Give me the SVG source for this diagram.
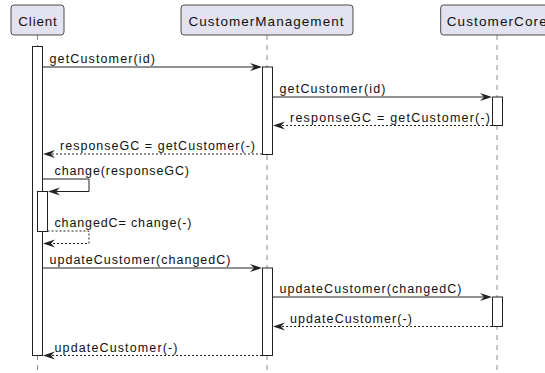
<svg xmlns="http://www.w3.org/2000/svg" width="545" height="373" viewBox="0 0 545 373">
<style>
.box{fill:#E2E2F0;stroke:#4a4a4a;stroke-width:1}
.life{stroke:#8a8a8a;stroke-width:1;stroke-dasharray:5,5;fill:none}
.act{fill:#ffffff;stroke:#222;stroke-width:1}
.msg{stroke:#222;stroke-width:1;fill:none}
.ret{stroke:#222;stroke-width:1;fill:none;stroke-dasharray:2,2}
.head{fill:#222;stroke:none}
.pt{font-family:"Liberation Sans",Arial,sans-serif;font-size:13.5px;fill:#111}
.mt{font-family:"Liberation Sans",Arial,sans-serif;font-size:12.5px;fill:#111}
</style>
<rect width="545" height="373" fill="#ffffff"/>
<g id="lifelines">
<line class="life" x1="37.5" y1="35" x2="37.5" y2="373"/>
<line class="life" x1="267" y1="35" x2="267" y2="373"/>
<line class="life" x1="497" y1="35" x2="497" y2="373"/>
</g>
<g id="Client">
<rect class="box" x="11" y="5" width="53" height="30" rx="3"/>
<text class="pt" x="18.3" y="25.5" textLength="38.5" lengthAdjust="spacing">Client</text>
</g>
<g id="CustomerManagement">
<rect class="box" x="181" y="5" width="172" height="30" rx="3"/>
<text class="pt" x="188.5" y="25.5" textLength="155" lengthAdjust="spacing">CustomerManagement</text>
</g>
<g id="CustomerCore">
<rect class="box" x="440.7" y="5" width="112" height="30" rx="3"/>
<text class="pt" x="446.7" y="25.5" textLength="100" lengthAdjust="spacing">CustomerCore</text>
</g>
<g id="activations">
<rect class="act" x="32.5" y="46.5" width="10" height="309"/>
<rect class="act" x="37.5" y="191.5" width="10" height="40"/>
<rect class="act" x="262.5" y="67" width="10" height="87.5"/>
<rect class="act" x="262.5" y="268" width="10" height="87.5"/>
<rect class="act" x="492.5" y="97" width="10" height="28.5"/>
<rect class="act" x="492.5" y="297" width="10" height="29.5"/>
</g>
<g id="connectors">
<line class="msg" x1="42.5" y1="67" x2="258" y2="67"/>
<polygon class="head" points="262,67 250,63 254,67 250,71"/>
<text class="mt" x="49.5" y="63" textLength="105.5" lengthAdjust="spacing">getCustomer(id)</text>

<line class="msg" x1="272.5" y1="97" x2="488" y2="97"/>
<polygon class="head" points="492,97 480,93 484,97 480,101"/>
<text class="mt" x="279.5" y="92.5" textLength="106" lengthAdjust="spacing">getCustomer(id)</text>

<line class="ret" x1="492" y1="125.5" x2="277" y2="125.5"/>
<polygon class="head" points="273,125.5 285,121.5 281,125.5 285,129.5"/>
<text class="mt" x="290" y="121.5" textLength="200" lengthAdjust="spacing">responseGC = getCustomer(-)</text>

<line class="ret" x1="262" y1="154" x2="47" y2="154"/>
<polygon class="head" points="43,154 55,150 51,154 55,158"/>
<text class="mt" x="60" y="150" textLength="195" lengthAdjust="spacing">responseGC = getCustomer(-)</text>

<polyline class="msg" points="42.5,179 89,179 89,191.5 52,191.5"/>
<polygon class="head" points="48,191.5 60,187.5 56,191.5 60,195.5"/>
<text class="mt" x="54.5" y="175" textLength="134.5" lengthAdjust="spacing">change(responseGC)</text>

<polyline class="ret" points="47.5,231 89,231 89,243.5 47,243.5"/>
<polygon class="head" points="43,243.5 55,239.5 51,243.5 55,247.5"/>
<text class="mt" x="54.5" y="226.5" textLength="137" lengthAdjust="spacing">changedC= change(-)</text>

<line class="msg" x1="42.5" y1="268" x2="258" y2="268"/>
<polygon class="head" points="262,268 250,264 254,268 250,272"/>
<text class="mt" x="49.5" y="264" textLength="181" lengthAdjust="spacing">updateCustomer(changedC)</text>

<line class="msg" x1="272.5" y1="297" x2="488" y2="297"/>
<polygon class="head" points="492,297 480,293 484,297 480,301"/>
<text class="mt" x="279.5" y="293" textLength="182" lengthAdjust="spacing">updateCustomer(changedC)</text>

<line class="ret" x1="492" y1="326.5" x2="277" y2="326.5"/>
<polygon class="head" points="273,326.5 285,322.5 281,326.5 285,330.5"/>
<text class="mt" x="290" y="322.5" textLength="122" lengthAdjust="spacing">updateCustomer(-)</text>

<line class="ret" x1="262" y1="355.5" x2="47" y2="355.5"/>
<polygon class="head" points="43,355.5 55,351.5 51,355.5 55,359.5"/>
<text class="mt" x="54.5" y="352" textLength="123" lengthAdjust="spacing">updateCustomer(-)</text>
</g>
</svg>
